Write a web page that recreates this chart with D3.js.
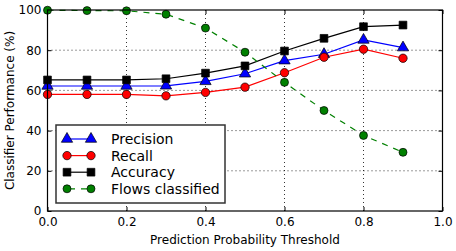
<!DOCTYPE html>
<html>
<head>
<meta charset="utf-8">
<script src="https://cdn.jsdelivr.net/npm/d3@7"></script>
<style>
  body { margin: 0; background: #fff; }
  svg text { font-family: "DejaVu Sans", sans-serif; }
</style>
</head>
<body>
<div id="chart"></div>
<script>
// data
var thresholds = [0, 0.1, 0.2, 0.3, 0.4, 0.5, 0.6, 0.7, 0.8, 0.9];
var precision = [62.2, 62.2, 62.2, 62.3, 64.5, 68.3, 74.8, 78.0, 85.1, 81.3];
var recall = [58.0, 58.0, 58.0, 57.3, 59.0, 61.6, 68.8, 76.5, 80.5, 76.0];
var accuracy = [65.2, 65.2, 65.2, 65.8, 68.6, 72.2, 79.6, 85.9, 91.7, 92.5];
var flows = [99.9, 99.7, 99.6, 97.9, 91.0, 79.0, 64.0, 50.0, 37.6, 29.2];
var seriesNames = ["Precision", "Recall", "Accuracy", "Flows classified"];
var xTicks = [0, 0.2, 0.4, 0.6, 0.8, 1.0];
var yTicks = [0, 20, 40, 60, 80, 100];

var svgWidth = 456, svgHeight = 251;
var margin = {top: 10, right: 13.5, bottom: 40, left: 47.5};
var width = svgWidth - margin.left - margin.right;
var height = svgHeight - margin.top - margin.bottom;

var svg = d3.select("#chart").append("svg")
  .attr("width", svgWidth).attr("height", svgHeight);
var g = svg.append("g")
  .attr("transform", `translate(${margin.left}, ${margin.top})`);

var x = d3.scaleLinear().domain([0, 1]).range([0, width]);
var y = d3.scaleLinear().domain([0, 100]).range([height, 0]);

// grid
g.selectAll(".vgrid").data(xTicks.slice(1, -1)).enter().append("line")
  .attr("x1", d => x(d)).attr("x2", d => x(d))
  .attr("y1", 0).attr("y2", height)
  .attr("stroke", "#000").attr("stroke-width", 0.8).attr("stroke-dasharray", "1,3");
g.selectAll(".hgrid").data(yTicks.slice(1, -1)).enter().append("line")
  .attr("y1", d => y(d)).attr("y2", d => y(d))
  .attr("x1", 0).attr("x2", width)
  .attr("stroke", "#000").attr("stroke-width", 0.8).attr("stroke-dasharray", "1,3");

// axes (ticks inward)
var xAxis = g.append("g").attr("transform", `translate(0, ${height})`)
  .call(d3.axisBottom(x).tickValues(xTicks).tickFormat(d3.format(".1f")).tickSizeInner(-4).tickSizeOuter(0).tickPadding(6));
var yAxis = g.append("g")
  .call(d3.axisLeft(y).tickValues(yTicks).tickSizeInner(-4).tickSizeOuter(0).tickPadding(6));
g.append("g").call(d3.axisTop(x).tickValues(xTicks).tickFormat("").tickSizeInner(-4).tickSizeOuter(0));
g.append("g").attr("transform", `translate(${width}, 0)`)
  .call(d3.axisRight(y).tickValues(yTicks).tickFormat("").tickSizeInner(-4).tickSizeOuter(0));
svg.selectAll(".domain").remove();
svg.selectAll(".tick text").attr("font-size", 12).attr("fill", "#000")
  .attr("font-family", "DejaVu Sans");

var series = [
  {name: seriesNames[0], values: precision, color: "#0000ff", symbol: d3.symbolTriangle, size: 55, dash: null},
  {name: seriesNames[1], values: recall, color: "#ff0000", symbol: d3.symbolCircle, size: 55, dash: null},
  {name: seriesNames[2], values: accuracy, color: "#000000", symbol: d3.symbolSquare, size: 60, dash: null},
  {name: seriesNames[3], values: flows, color: "#008000", symbol: d3.symbolCircle, size: 50, dash: "6,6"}
];

var line = d3.line().x((d, i) => x(thresholds[i])).y(d => y(d));

var clip = svg.append("clipPath").attr("id", "clip").append("rect")
  .attr("width", width).attr("height", height);

series.forEach(function(s) {
  g.append("path").datum(s.values)
    .attr("d", line)
    .attr("fill", "none")
    .attr("stroke", s.color)
    .attr("stroke-width", 1.2)
    .attr("stroke-dasharray", s.dash);
});
series.forEach(function(s) {
  g.selectAll(null).data(s.values).enter().append("path")
    .attr("d", d3.symbol().type(s.symbol).size(s.size))
    .attr("transform", (d, i) => `translate(${x(thresholds[i])}, ${y(d)})`)
    .attr("fill", s.color)
    .attr("stroke", "#000").attr("stroke-width", 0.7);
});

// frame
g.append("rect").attr("width", width).attr("height", height)
  .attr("fill", "none").attr("stroke", "#000").attr("stroke-width", 1.2);

// legend
var legend = svg.append("g").attr("transform", "translate(56, 125)");
legend.append("rect").attr("width", 169).attr("height", 78)
  .attr("fill", "#fff").attr("stroke", "#333").attr("stroke-width", 1.5);
series.forEach(function(s, i) {
  var ly = 14 + i * 16.6;
  legend.append("line").attr("x1", 11).attr("x2", 35).attr("y1", ly).attr("y2", ly)
    .attr("stroke", s.color).attr("stroke-width", 1.2).attr("stroke-dasharray", s.dash ? "6,6" : null)
    .attr("stroke-dashoffset", s.dash ? -2 : null);
  [11, 35].forEach(function(mx) {
    legend.append("path")
      .attr("d", d3.symbol().type(s.symbol).size(s.size))
      .attr("transform", `translate(${mx}, ${ly})`)
      .attr("fill", s.color).attr("stroke", "#000").attr("stroke-width", 0.7);
  });
  legend.append("text").attr("x", 55).attr("y", ly + 5)
    .attr("font-size", 14).text(s.name);
});

// axis labels
svg.append("text")
  .attr("x", margin.left + width / 2).attr("y", 244)
  .attr("text-anchor", "middle").attr("font-size", 12)
  .text("Prediction Probability Threshold");
svg.append("text")
  .attr("transform", `translate(14, ${margin.top + height / 2}) rotate(-90)`)
  .attr("text-anchor", "middle").attr("font-size", 12)
  .text("Classifier Performance (%)");
</script>
</body>
</html>
